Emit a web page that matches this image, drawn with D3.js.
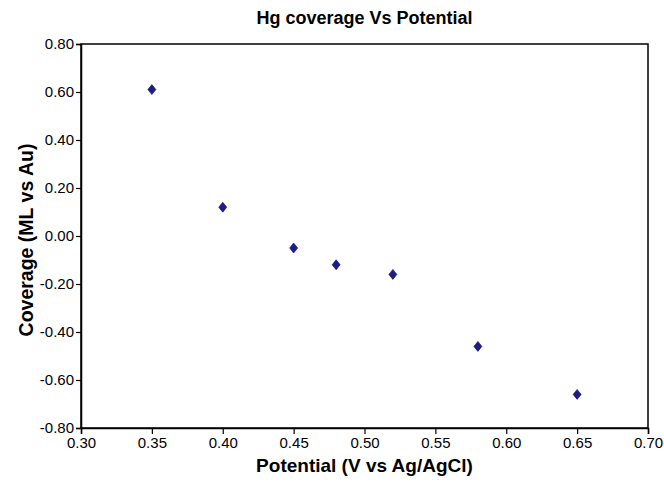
<!DOCTYPE html>
<html>
<head>
<meta charset="utf-8">
<script src="https://cdn.jsdelivr.net/npm/d3@7"></script>
<style>
  body { margin: 0; background: #fff; }
  text { font-family: "Liberation Sans", Arial, sans-serif; fill: #000; }
</style>
</head>
<body>
<svg width="664" height="489"></svg>
<script>
// data
var potential = [0.35, 0.40, 0.45, 0.48, 0.52, 0.58, 0.65];
var coverage = [0.61, 0.12, -0.05, -0.12, -0.16, -0.46, -0.66];
var xTicks = [0.30, 0.35, 0.40, 0.45, 0.50, 0.55, 0.60, 0.65, 0.70];
var yTicks = [-0.80, -0.60, -0.40, -0.20, 0.00, 0.20, 0.40, 0.60, 0.80];

var svg = d3.select("svg"),
    margin = {top: 44, right: 16, bottom: 61, left: 81},
    width = +svg.attr("width") - margin.left - margin.right,
    height = +svg.attr("height") - margin.top - margin.bottom;

var x = d3.scaleLinear().domain([0.30, 0.70]).range([0, width]),
    y = d3.scaleLinear().domain([-0.80, 0.80]).range([height, 0]);

// plain hyphen for negatives, like the original
var fmt = function(d) { return d.toFixed(2); };

var g = svg.append("g").attr("transform", "translate(" + margin.left + "," + margin.top + ")");

// plot frame
g.append("rect")
  .attr("width", width)
  .attr("height", height)
  .attr("fill", "none")
  .attr("stroke", "#000")
  .attr("stroke-width", 1.5);

var xAxis = g.append("g")
  .attr("transform", "translate(0," + height + ")")
  .call(d3.axisBottom(x).tickValues(xTicks).tickFormat(fmt).tickSizeOuter(0).tickSize(6).tickPadding(3));

var yAxis = g.append("g")
  .call(d3.axisLeft(y).tickValues(yTicks).tickFormat(fmt).tickSizeOuter(0).tickSize(5).tickPadding(2));

[xAxis, yAxis].forEach(function(a) {
  a.select(".domain").attr("stroke-width", 1.5);
  a.selectAll(".tick line").attr("stroke-width", 1.2);
  a.selectAll("text").style("font-size", "15px").attr("fill", "#000");
});

g.selectAll(".pt")
  .data(potential)
  .enter().append("path")
  .attr("class", "pt")
  .attr("d", "M0,-5L4,0L0,5L-4,0Z")
  .attr("transform", function(d, i) { return "translate(" + x(d) + "," + y(coverage[i]) + ")"; })
  .attr("fill", "#1c1c8e")
  .attr("stroke", "#0a0a50")
  .attr("stroke-width", 0.6);

svg.append("text")
  .attr("x", margin.left + width / 2)
  .attr("y", 24)
  .attr("text-anchor", "middle")
  .style("font-size", "18px")
  .style("font-weight", "bold")
  .text("Hg coverage Vs Potential");

svg.append("text")
  .attr("x", margin.left + width / 2)
  .attr("y", 472)
  .attr("text-anchor", "middle")
  .style("font-size", "19px")
  .style("font-weight", "bold")
  .text("Potential (V vs Ag/AgCl)");

svg.append("text")
  .attr("transform", "translate(33," + (margin.top + height / 2 + 4) + ") rotate(-90)")
  .attr("text-anchor", "middle")
  .style("font-size", "19.5px")
  .style("font-weight", "bold")
  .text("Coverage (ML vs Au)");
</script>
</body>
</html>
